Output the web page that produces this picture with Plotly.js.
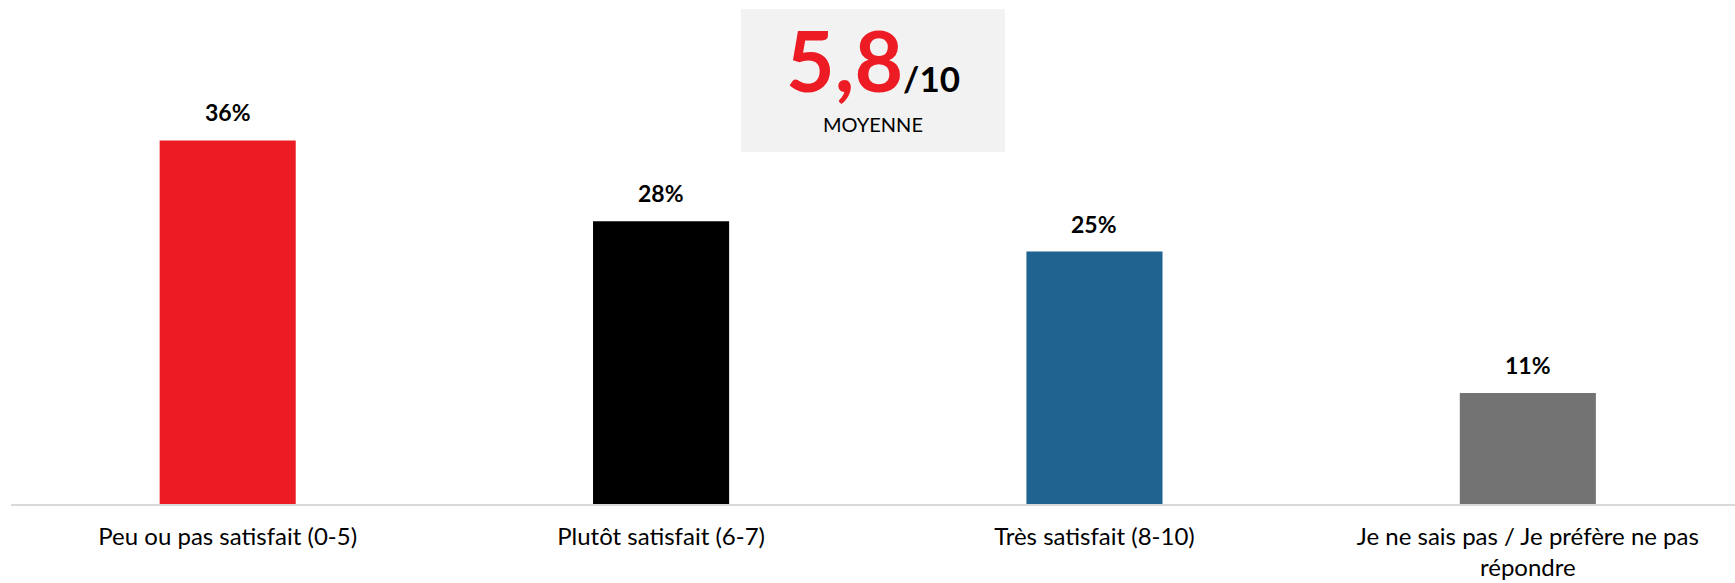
<!DOCTYPE html>
<html>
<head>
<meta charset="utf-8">
<script src="https://cdn.plot.ly/plotly-3.0.1.min.js"></script>
<style>
  html, body { margin: 0; padding: 0; background: #ffffff; }
  #chart { width: 1735px; height: 583px; }
</style>
</head>
<body>
<div id="chart"></div>
<script>
// ---- data ----
const categories = [
  "Peu ou pas satisfait (0-5)",
  "Plutôt satisfait (6-7)",
  "Très satisfait (8-10)",
  "Je ne sais pas / Je préfère ne pas<br>répondre"
];
const values = [36, 28, 25, 11];
const barColors = ["#ED1C24", "#000000", "#1F6391", "#737373"];
const meanScore = "5,8";
const meanScale = "/10";
const meanLabel = "MOYENNE";

const FONT = "Lato, 'Open Sans', sans-serif";

const trace = {
  type: "bar",
  x: categories,
  y: values,
  width: 0.314,
  marker: { color: barColors },
  hoverinfo: "skip",
  showlegend: false
};

const valueAnnotations = categories.map((c, i) => ({
  x: c, y: values[i], xref: "x", yref: "y",
  text: "<b>" + values[i] + "%</b>",
  showarrow: false, yanchor: "bottom", yshift: 12,
  font: { family: FONT, size: 23, color: "#000000" }
}));

const layout = {
  width: 1735, height: 583,
  margin: { l: 11, r: 0, t: 100, b: 79 },
  paper_bgcolor: "#ffffff",
  plot_bgcolor: "#ffffff",
  font: { family: FONT, color: "#000000" },
  xaxis: {
    type: "category",
    range: [-0.5, 3.478],
    showline: true, linecolor: "#D9D9D9", linewidth: 2,
    showgrid: false, zeroline: false,
    ticks: "", ticklabelstandoff: 10,
    tickfont: { family: FONT, size: 24, color: "#000000" },
    fixedrange: true
  },
  yaxis: {
    range: [0, 40],
    visible: false,
    showgrid: false, zeroline: false,
    fixedrange: true
  },
  shapes: [{
    type: "rect", xref: "paper", yref: "paper",
    x0: (741 - 11) / 1724, x1: (1005 - 11) / 1724,
    y0: (504 - 152) / 404, y1: (504 - 9) / 404,
    fillcolor: "#F2F2F2", line: { width: 0 }, layer: "below"
  }],
  annotations: valueAnnotations.concat([
    {
      xref: "paper", yref: "paper",
      x: (873 - 11) / 1724, y: (504 - 92) / 404,
      xanchor: "center", yanchor: "bottom", yshift: -20,
      text: "<b><span style='color:#ED1C24;font-size:84px'>" + meanScore +
            "</span><span style='font-size:35px'>" + meanScale + "</span></b>",
      showarrow: false,
      font: { family: FONT, size: 35, color: "#000000" }
    },
    {
      xref: "paper", yref: "paper",
      x: (873 - 11) / 1724, y: (504 - 124) / 404,
      xanchor: "center", yanchor: "middle",
      text: meanLabel, showarrow: false,
      font: { family: FONT, size: 20, color: "#000000" }
    }
  ])
};

Plotly.newPlot("chart", [trace], layout, { displayModeBar: false, staticPlot: true });
</script>
</body>
</html>
